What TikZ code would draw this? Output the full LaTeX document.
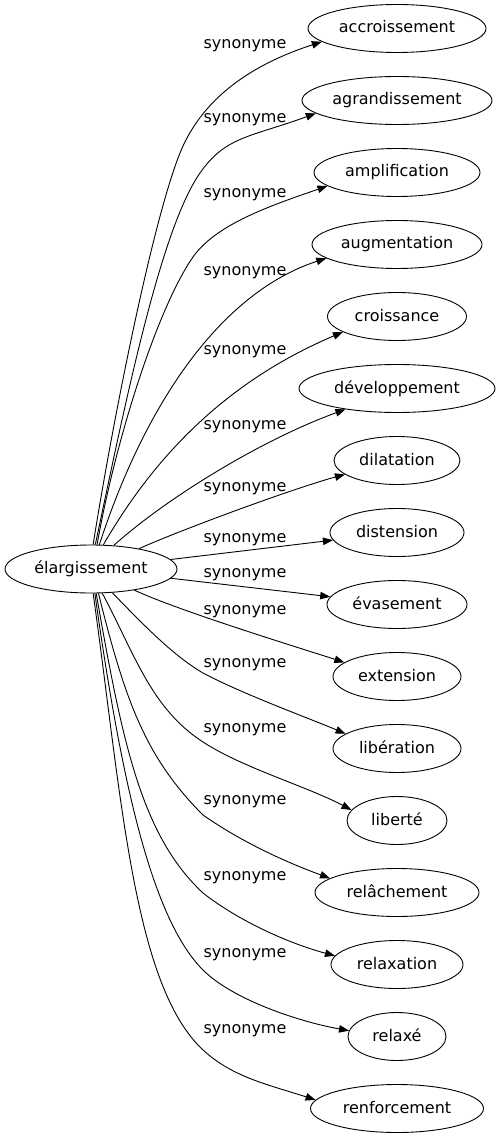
\documentclass[tikz,border=0pt]{standalone}
\usepackage{fontspec}
\setmainfont{DejaVu Sans}
\usetikzlibrary{shapes.geometric,arrows.meta}
\tikzset{
  gfont/.style={font=\fontsize{16pt}{19pt}\selectfont, text height=12.5pt, text depth=3.5pt},
  srcnode/.style={draw, ellipse, line width=0.9pt, inner sep=0pt, minimum width=172pt, minimum height=48pt, gfont},
  tnode/.style={draw, ellipse, line width=0.9pt, inner sep=0pt, minimum height=48pt, gfont},
  lbl/.style={inner sep=0pt, gfont},
  edge/.style={line width=0.9pt, -{Triangle[length=10pt,width=7.5pt]}},
}
\begin{document}
\begin{tikzpicture}[x=1pt,y=1pt]
\useasboundingbox[fill=white] (0,0) rectangle (498,-1139);

\node[srcnode] (e) at (91,-569) {élargissement};

\node[tnode, minimum width=178pt] (t1)  at (397,-28.5)  {accroissement};
\node[tnode, minimum width=190pt] (t2)  at (397,-100.5) {agrandissement};
\node[tnode, minimum width=166pt] (t3)  at (397,-172.5) {amplification};
\node[tnode, minimum width=170pt] (t4)  at (397,-244.5) {augmentation};
\node[tnode, minimum width=139pt] (t5)  at (397,-316.5) {croissance};
\node[tnode, minimum width=196pt] (t6)  at (397,-388.5) {développement};
\node[tnode, minimum width=126pt] (t7)  at (397,-460.5) {dilatation};
\node[tnode, minimum width=134pt] (t8)  at (397,-532.5) {distension};
\node[tnode, minimum width=140pt] (t9)  at (397,-604.5) {évasement};
\node[tnode, minimum width=128pt] (t10) at (397,-676.5) {extension};
\node[tnode, minimum width=128pt] (t11) at (397,-748.5) {libération};
\node[tnode, minimum width=100pt] (t12) at (397,-820.5) {liberté};
\node[tnode, minimum width=164pt] (t13) at (397,-892.5) {relâchement};
\node[tnode, minimum width=132pt] (t14) at (397,-964.5) {relaxation};
\node[tnode, minimum width=98pt]  (t15) at (397,-1036.5) {relaxé};
\node[tnode, minimum width=173pt] (t16) at (397,-1108.5) {renforcement};

\node[lbl] (l1)  at (245,-44)   {synonyme};
\node[lbl] (l2)  at (245,-118)  {synonyme};
\node[lbl] (l3)  at (245,-193)  {synonyme};
\node[lbl] (l4)  at (245,-271)  {synonyme};
\node[lbl] (l5)  at (245,-350)  {synonyme};
\node[lbl] (l6)  at (245,-425)  {synonyme};
\node[lbl] (l7)  at (245,-487)  {synonyme};
\node[lbl] (l8)  at (245,-538)  {synonyme};
\node[lbl] (l9)  at (245,-573)  {synonyme};
\node[lbl] (l10) at (245,-610)  {synonyme};
\node[lbl] (l11) at (245,-663)  {synonyme};
\node[lbl] (l12) at (245,-728)  {synonyme};
\node[lbl] (l13) at (245,-800)  {synonyme};
\node[lbl] (l14) at (245,-876)  {synonyme};
\node[lbl] (l15) at (245,-953)  {synonyme};
\node[lbl] (l16) at (245,-1029) {synonyme};

\coordinate (m1) at (180,-153);
\coordinate (m2) at (200,-173);
\coordinate (m3) at (193,-257);
\coordinate (m11) at (203,-673);
\coordinate (m12) at (203,-742);
\coordinate (m13) at (203,-815);
\coordinate (m14) at (203,-893);
\coordinate (m15) at (203,-970);
\coordinate (m16) at (200,-1047);

\draw[edge] (e.85.2) to[out=81,in=248,out distance=130pt,in distance=72pt] (m1)
  to[out=68,in=198,out distance=55pt,in distance=80pt] (t1.190);
\draw[edge] (e.80.5) to[out=78,in=235,out distance=140pt,in distance=70pt] (m2)
  to[out=55,in=200,out distance=45pt,in distance=70pt] (t2.189);
\draw[edge] (e.76) to[out=80,in=235,out distance=110pt,in distance=60pt] (m3)
  to[out=55,in=199,out distance=40pt,in distance=60pt] (t3.191);
\draw[edge] (e.71.6) to[out=72,in=198,out distance=150pt,in distance=110pt] (t4.191);
\draw[edge] (e.63.4) to[out=60,in=203,out distance=110pt,in distance=120pt] (t5.196);
\draw[edge] (e.46.5) to[out=42,in=200,out distance=70pt,in distance=90pt] (t6.202);
\draw[edge] (e.23.8) to[out=24,in=195,out distance=50pt,in distance=50pt] (t7.195.6);
\draw[edge] (e) -- (t8);
\draw[edge] (e) -- (t9);
\draw[edge] (e.-26.5) to[out=-25,in=162,out distance=50pt,in distance=40pt] (t10.165.7);
\draw[edge] (e.-48) to[out=-46,in=150,out distance=40pt,in distance=35pt] (m11)
  to[out=-28,in=157,out distance=45pt,in distance=40pt] (t11.164);
\draw[edge] (e.-65.4) to[out=-62,in=147,out distance=70pt,in distance=62pt] (m12)
  to[out=-33,in=152,out distance=48pt,in distance=50pt] (t12.167);
\draw[edge] (e.-73.7) to[out=-76,in=135,out distance=110pt,in distance=82pt] (m13)
  to[out=-35,in=160,out distance=48pt,in distance=45pt] (t13.168);
\draw[edge] (e.-78.2) to[out=-80,in=137,out distance=150pt,in distance=85pt] (m14)
  to[out=-38,in=165,out distance=48pt,in distance=45pt] (t14.172);
\draw[edge] (e.-81.7) to[out=-82,in=135,out distance=180pt,in distance=75pt] (m15)
  to[out=-45,in=170,out distance=42pt,in distance=50pt] (t15.173);
\draw[edge] (e.-85.2) to[out=-82,in=135,out distance=200pt,in distance=95pt] (m16)
  to[out=-45,in=162,out distance=42pt,in distance=50pt] (t16.174);
\end{tikzpicture}
\end{document}
